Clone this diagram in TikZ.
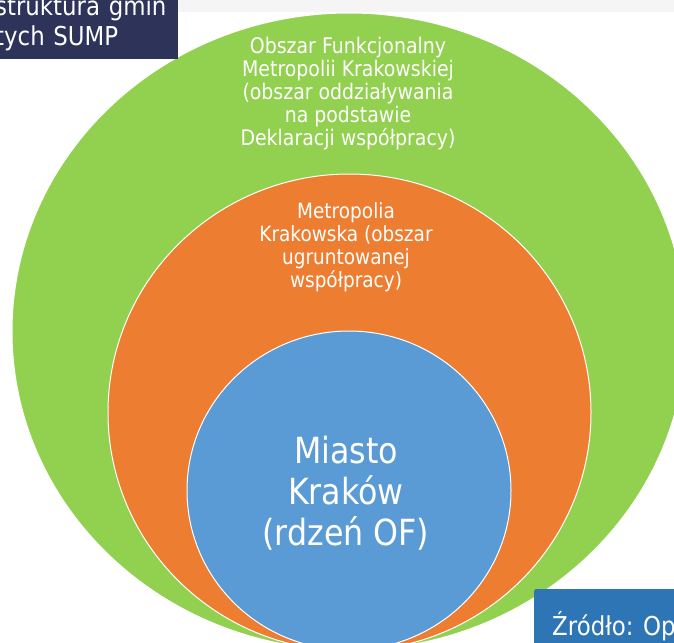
\documentclass[tikz,border=0pt]{standalone}
\usepackage{fontspec}
\setmainfont{DejaVu Sans}[FakeStretch=0.88]
\usepackage{tikz}
\definecolor{ofgreen}{RGB}{146,208,80}
\definecolor{mkorange}{RGB}{237,125,49}
\definecolor{krblue}{RGB}{91,155,213}
\definecolor{titlenavy}{RGB}{46,52,89}
\definecolor{srcblue}{RGB}{46,117,182}

\begin{document}
\begin{tikzpicture}[x=1pt, y=-1pt,
		ring/.style={draw=white, line width=1pt},
		ringtext/.style={text=white, align=center, inner sep=0pt}]
	\useasboundingbox (0,0) rectangle (674,642);
	\clip (0,0) rectangle (674,642);
	\fill[gray!8] (0,0) rectangle (674,12);

	\draw[ring, fill=ofgreen] (349,331.5) ellipse [x radius=337, y radius=318.5];
	\draw[ring, fill=mkorange] (349.5,412.5) ellipse [x radius=241.5, y radius=238.5];
	\draw[ring, fill=krblue] (349,490.5) ellipse [x radius=162, y radius=159.5];

	\draw
		(348,94) node[ringtext, font=\fontsize{21.5}{23}\selectfont] (of)
			{Obszar Funkcjonalny\\Metropolii Krakowskiej\\(obszar oddziaływania\\na podstawie\\Deklaracji współpracy)}
		(346,247) node[ringtext, font=\fontsize{21}{23}\selectfont] (mk)
			{Metropolia\\Krakowska (obszar\\ugruntowanej\\współpracy)}
		(346,493) node[ringtext, font=\fontsize{36}{41}\selectfont] (krk)
			{Miasto\\Kraków\\(rdzeń OF)};

	\node[fill=titlenavy, text=white, align=left, anchor=south west,
		text width=176pt, inner xsep=7pt, inner ysep=8pt,
		font=\fontsize{26}{30}\selectfont] (title) at (-12,59)
		{struktura gmin\\tych SUMP};

	\node[fill=srcblue, text=white, anchor=base west, rounded corners=2pt,
		inner xsep=18pt, inner ysep=0pt, text height=46pt, text depth=10pt,
		font=\fontsize{26}{30}\selectfont] (src) at (534,635)
		{Źródło: Op};
\end{tikzpicture}
\end{document}
